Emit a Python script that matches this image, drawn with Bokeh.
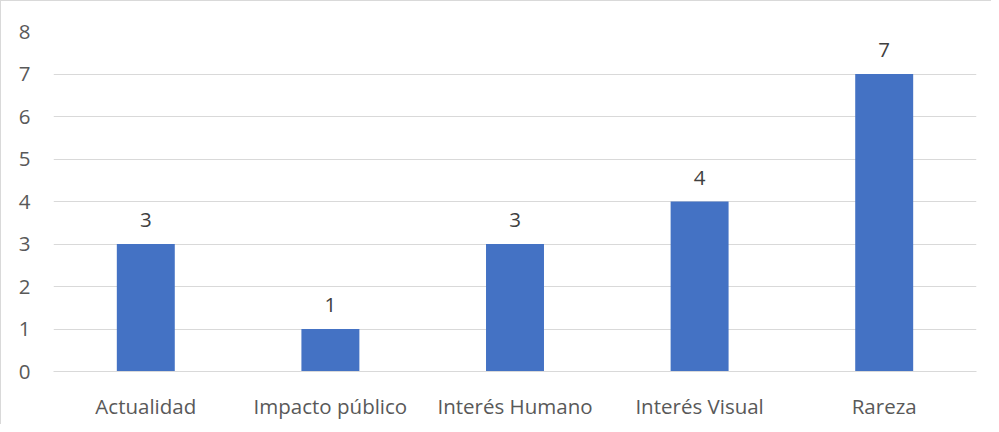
from bokeh.plotting import figure
from bokeh.models import ColumnDataSource, LabelSet, FactorRange, FixedTicker
from bokeh.core.properties import value
from bokeh.embed import file_html
from bokeh.resources import INLINE

categories = ["Actualidad", "Impacto público", "Interés Humano", "Interés Visual", "Rareza"]
values = [3, 1, 3, 4, 7]
y_ticks = [0, 1, 2, 3, 4, 5, 6, 7, 8]

FONT = "Open Sans"

source = ColumnDataSource(dict(cat=categories, val=values, lbl=[str(v) for v in values]))

p = figure(
    x_range=FactorRange(*categories),
    y_range=(0, 8),
    width=991,
    height=424,
    output_backend="svg",
    toolbar_location=None,
    min_border_left=52,
    min_border_right=16,
    min_border_top=30,
    min_border_bottom=54,
)
p.styles = {"border-left": "1px solid #d9d9d9", "border-top": "1px solid #d9d9d9", "box-sizing": "border-box"}
p.outline_line_color = None
p.background_fill_color = "white"
p.border_fill_color = "white"

p.vbar(x="cat", top="val", width=0.314, source=source, color="#4472C4", line_color=None)

labels = LabelSet(x="cat", y="val", text="lbl", source=source, y_offset=24,
                  text_align="center", text_baseline="middle",
                  text_font=value(FONT), text_font_size="20.5px", text_color="#404040")
p.add_layout(labels)

p.xgrid.grid_line_color = None
p.ygrid.grid_line_color = "#d9d9d9"
p.ygrid.grid_line_width = 1
p.ygrid.ticker = FixedTicker(ticks=y_ticks)

p.yaxis.ticker = FixedTicker(ticks=y_ticks)
p.yaxis.axis_line_color = None
p.yaxis.major_tick_line_color = None
p.yaxis.minor_tick_line_color = None
p.yaxis.major_tick_out = 0
p.yaxis.major_label_standoff = 23
p.yaxis.major_label_text_font = FONT
p.yaxis.major_label_text_font_size = "20.5px"
p.yaxis.major_label_text_color = "#595959"

p.xaxis.axis_line_color = "#d9d9d9"
p.xaxis.major_tick_line_color = None
p.xaxis.minor_tick_line_color = None
p.xaxis.major_tick_out = 0
p.xaxis.major_label_standoff = 20
p.xaxis.major_label_text_font = FONT
p.xaxis.major_label_text_font_size = "20.5px"
p.xaxis.major_label_text_color = "#595959"

open("out.html", "w").write(file_html(p, INLINE))
